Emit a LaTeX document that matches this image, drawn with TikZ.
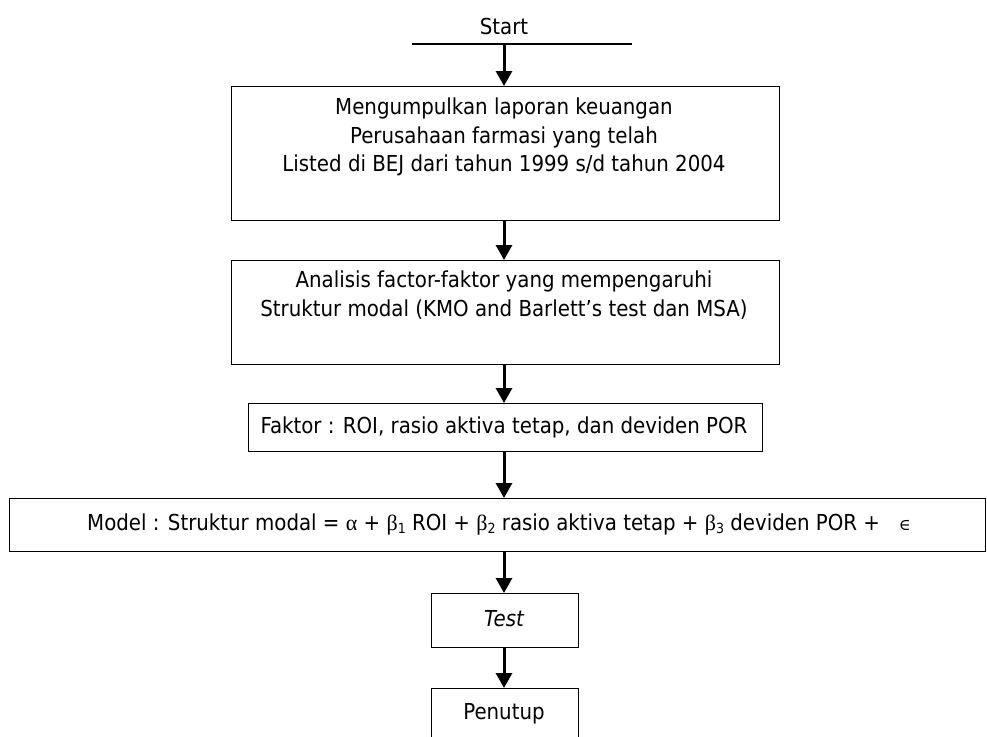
\documentclass[tikz,border=0pt]{standalone}
\usepackage{fontspec}
\setmainfont{DejaVu Sans Condensed}
\newfontfamily\grk{Liberation Serif}
\newfontfamily\symf{DejaVu Serif}
\usetikzlibrary{arrows.meta}
\newcommand\subtxt[1]{\raisebox{-0.3ex}{\fontsize{14}{14}\selectfont #1}}
\begin{document}
\begin{tikzpicture}[x=1pt,y=-1pt,
  font=\fontsize{22}{28.5}\selectfont,
  box/.style={draw, line width=1.2pt, inner sep=0pt, anchor=north west},
  txt/.style={align=center, inner sep=0pt},
  arr/.style={-{Triangle[width=16pt,length=15pt]}, line width=3pt}]
\useasboundingbox (0,0) rectangle (987,736);

\node[txt] (st) at (504,26) {Start};
\coordinate (sl) at (412,44);
\coordinate (sr) at (632,44);
\draw[line width=2pt] (sl) -- (sr);
\coordinate (s0) at (504,44);

\node[box, minimum width=548pt, minimum height=134pt] (b1) at (231,86) {};
\node[txt] (t1) at (504,137) {Mengumpulkan laporan keuangan\\Perusahaan farmasi yang telah\\Listed di BEJ dari tahun 1999 s/d tahun 2004};

\node[box, minimum width=548pt, minimum height=104pt] (b2) at (231,260) {};
\node[txt] (t2) at (504,295) {Analisis factor-faktor yang mempengaruhi\\Struktur modal (KMO and Barlett’s test dan MSA)};

\node[box, minimum width=514pt, minimum height=48pt] (b3) at (248,403) {};
\node[txt] (t3) at (504,427) {Faktor : ROI, rasio aktiva tetap, dan deviden POR};

\node[box, minimum width=976pt, minimum height=53pt] (b4) at (9,498) {};
\node[txt, anchor=west] (t4) at (87,524) {Model : Struktur modal = {\grk α} + {\grk β}\subtxt{1} ROI + {\grk β}\subtxt{2} rasio aktiva tetap + {\grk β}\subtxt{3} deviden POR +~~~{\symf\fontsize{16}{16}\selectfont ∈}};

\node[box, minimum width=147pt, minimum height=54pt] (b5) at (431,593) {};
\node[txt] (t5) at (504,619) {\itshape Test};

\node[box, minimum width=147pt, minimum height=60pt] (b6) at (431,688) {};
\node[txt] (t6) at (504,714) {Penutup};

\draw[arr] (s0) -- (s0 |- b1.north);
\draw[arr] (b1.south -| s0) -- (b2.north -| s0);
\draw[arr] (b2.south -| s0) -- (b3.north -| s0);
\draw[arr] (b3.south -| s0) -- (b4.north -| s0);
\draw[arr] (b4.south -| s0) -- (b5.north -| s0);
\draw[arr] (b5.south -| s0) -- (b6.north -| s0);
\end{tikzpicture}
\end{document}
